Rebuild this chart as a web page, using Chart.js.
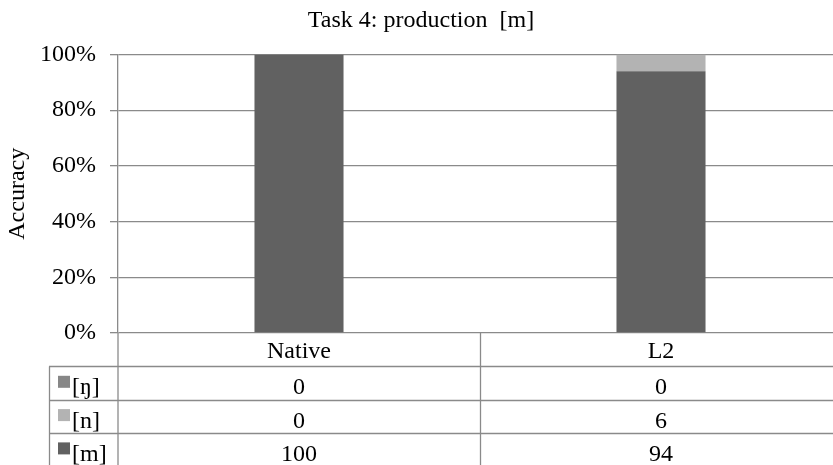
<!DOCTYPE html>
<html>
<head>
<meta charset="utf-8">
<script src="https://cdn.jsdelivr.net/npm/chart.js@4/dist/chart.umd.min.js"></script>
<style>
  html, body { margin: 0; padding: 0; background: #fff; overflow: hidden; width: 833px; height: 465px; }
  canvas { display: block; }
</style>
</head>
<body>
<canvas id="c" width="850" height="465"></canvas>
<script>
// Categories and series values (percent of responses)
const categories = ['Native', 'L2'];
const seriesNames = ['[m]', '[n]', '[ŋ]'];
const valuesM = [100, 94];
const valuesN = [0, 6];
const valuesNg = [0, 0];
const yTickValues = [0, 20, 40, 60, 80, 100];
const yTickLabels = ['0%', '20%', '40%', '60%', '80%', '100%'];

const seriesColors = ['#616161', '#b3b3b3', '#878787'];
const FONT = "'Liberation Serif', 'Times New Roman', serif";
const LINE = '#8a8a8a';
const LINE_W = 1.3;

Chart.defaults.font.family = FONT;
Chart.defaults.color = '#000';

// Data table drawn under the plot, aligned to the category scale
const dataTablePlugin = {
  id: 'dataTable',
  afterDraw(chart) {
    const { ctx, chartArea } = chart;
    const x = chart.scales.x;
    const top = chartArea.bottom;
    const rowH = 33.3;
    const tableLeft = 49;
    const right = chartArea.right;
    const H = chart.height;
    const rows = chart.data.datasets.slice().reverse();

    ctx.save();
    ctx.strokeStyle = LINE;
    ctx.lineWidth = LINE_W;

    // horizontal row separators
    for (let r = 1; r <= rows.length; r++) {
      const y = Math.round(top + r * rowH) + 0.5;
      ctx.beginPath();
      ctx.moveTo(tableLeft, y);
      ctx.lineTo(right, y);
      ctx.stroke();
    }
    // table left border
    ctx.beginPath();
    ctx.moveTo(tableLeft + 0.5, Math.round(top + rowH) + 0.5);
    ctx.lineTo(tableLeft + 0.5, H);
    ctx.stroke();
    // plot-left line continued through the table
    ctx.beginPath();
    ctx.moveTo(chartArea.left, top);
    ctx.lineTo(chartArea.left, H);
    ctx.stroke();
    // column dividers between categories
    for (let i = 0; i < categories.length - 1; i++) {
      const xd = Math.round((x.getPixelForValue(i) + x.getPixelForValue(i + 1)) / 2) + 0.5;
      ctx.beginPath();
      ctx.moveTo(xd, top);
      ctx.lineTo(xd, H);
      ctx.stroke();
    }

    ctx.fillStyle = '#000';
    ctx.font = '24px ' + FONT;
    ctx.textBaseline = 'alphabetic';
    ctx.textAlign = 'center';
    // header row: category names
    categories.forEach((c, i) => {
      ctx.fillText(c, x.getPixelForValue(i), top + 25);
    });
    // one row per series, top series first
    rows.forEach((ds, r) => {
      const rowTop = top + (r + 1) * rowH;
      ctx.fillStyle = ds.backgroundColor;
      ctx.fillRect(58, rowTop + 9.5, 12, 12);
      ctx.fillStyle = '#000';
      ctx.textAlign = 'left';
      ctx.fillText(ds.label, 72, rowTop + 28);
      ctx.textAlign = 'center';
      ds.data.forEach((v, i) => {
        ctx.fillText(String(v), x.getPixelForValue(i), rowTop + 28);
      });
    });
    ctx.restore();
  }
};

new Chart(document.getElementById('c'), {
  type: 'bar',
  data: {
    labels: categories,
    datasets: [
      { label: seriesNames[0], data: valuesM, backgroundColor: seriesColors[0] },
      { label: seriesNames[1], data: valuesN, backgroundColor: seriesColors[1] },
      { label: seriesNames[2], data: valuesNg, backgroundColor: seriesColors[2] }
    ]
  },
  options: {
    responsive: false,
    animation: false,
    devicePixelRatio: 1,
    layout: { padding: { top: 0, left: 0, right: 8, bottom: 132 } },
    datasets: { bar: { barPercentage: 0.246, categoryPercentage: 1, borderWidth: 0 } },
    plugins: {
      legend: { display: false },
      tooltip: { enabled: false },
      title: {
        display: true,
        text: 'Task 4: production  [m]',
        color: '#000',
        font: { size: 24, weight: 'normal', family: FONT },
        padding: { top: 6, bottom: 19.7 }
      }
    },
    scales: {
      x: {
        stacked: true,
        display: false
      },
      y: {
        stacked: true,
        min: 0,
        max: 100,
        afterBuildTicks(scale) { scale.ticks = yTickValues.map(v => ({ value: v })); },
        afterFit(scale) { scale.width = 118; },
        ticks: {
          padding: 14,
          color: '#000',
          font: { size: 24, family: FONT },
          callback: (v, i) => yTickLabels[i]
        },
        grid: { color: LINE, lineWidth: LINE_W, tickLength: 8, drawTicks: true },
        border: { color: LINE, width: LINE_W },
        title: {
          display: true,
          text: 'Accuracy',
          color: '#000',
          font: { size: 24, weight: 'normal', family: FONT },
          padding: { top: 3.6, bottom: 0 }
        }
      }
    }
  },
  plugins: [dataTablePlugin]
});
</script>
</body>
</html>
